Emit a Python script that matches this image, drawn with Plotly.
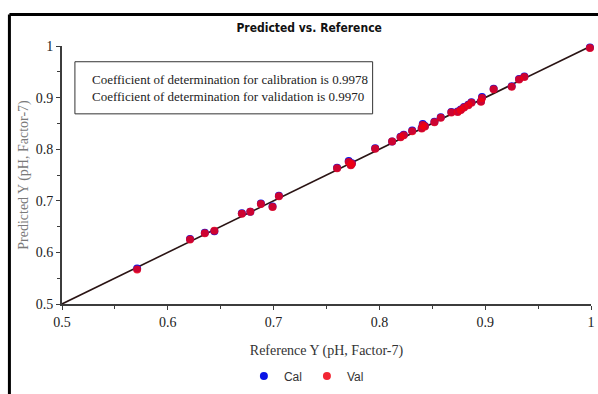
import plotly.graph_objects as go

# Reference vs predicted pH values (Factor-7 model)
cal_ref = [0.571, 0.621, 0.635, 0.644, 0.670, 0.678, 0.688, 0.699, 0.705, 0.760,
           0.771, 0.773, 0.774, 0.796, 0.812, 0.820, 0.823, 0.831, 0.840, 0.841,
           0.843, 0.852, 0.858, 0.868, 0.874, 0.877, 0.880, 0.884, 0.887, 0.896,
           0.897, 0.908, 0.925, 0.932, 0.937, 0.999]
cal_pred = [0.569, 0.626, 0.638, 0.641, 0.676, 0.679, 0.695, 0.689, 0.710, 0.764,
            0.777, 0.770, 0.773, 0.802, 0.815, 0.824, 0.828, 0.836, 0.841, 0.849,
            0.845, 0.853, 0.862, 0.872, 0.873, 0.877, 0.882, 0.886, 0.891, 0.893,
            0.901, 0.917, 0.922, 0.936, 0.941, 0.997]
val_ref = [0.571, 0.621, 0.635, 0.644, 0.670, 0.678, 0.688, 0.699, 0.705, 0.760,
           0.771, 0.773, 0.774, 0.796, 0.812, 0.820, 0.823, 0.831, 0.840, 0.841,
           0.843, 0.852, 0.858, 0.868, 0.874, 0.877, 0.880, 0.884, 0.887, 0.896,
           0.897, 0.908, 0.925, 0.932, 0.937, 0.999]
val_pred = [0.567, 0.625, 0.637, 0.642, 0.675, 0.679, 0.694, 0.688, 0.709, 0.763,
            0.775, 0.769, 0.772, 0.801, 0.815, 0.823, 0.827, 0.835, 0.840, 0.847,
            0.844, 0.852, 0.861, 0.871, 0.872, 0.876, 0.881, 0.885, 0.890, 0.892,
            0.899, 0.916, 0.921, 0.935, 0.940, 0.996]
line_xy = [0.5, 1.0]
r2_cal = "0.9978"
r2_val = "0.9970"
x_ticks = [0.5, 0.6, 0.7, 0.8, 0.9, 1.0]
y_ticks = [0.5, 0.6, 0.7, 0.8, 0.9, 1.0]

serif = "Liberation Serif, Times New Roman, serif"
narrow = "DejaVu Sans Condensed, Liberation Sans Narrow, Arial Narrow, sans-serif"

fig = go.Figure()
fig.add_trace(go.Scatter(x=line_xy, y=line_xy, mode="lines",
                         line=dict(color="#2a1414", width=1.6),
                         showlegend=False, hoverinfo="skip", cliponaxis=False))
fig.add_trace(go.Scatter(x=cal_ref, y=cal_pred, mode="markers", name="Cal",
                         marker=dict(color="#0a14e6", size=8), cliponaxis=False))
fig.add_trace(go.Scatter(x=val_ref, y=val_pred, mode="markers", name="Val",
                         marker=dict(color="#f00010", size=8, opacity=0.85),
                         cliponaxis=False))

axis_common = dict(
    range=[0.5, 1.0], showgrid=False, zeroline=False,
    showline=True, linecolor="#3c3c3c", linewidth=2,
    ticks="outside", ticklen=4, tickcolor="#3c3c3c", tickwidth=1,
    minor=dict(dtick=0.05, ticks="outside", ticklen=3, tickcolor="#3c3c3c"),
    tickfont=dict(family=serif, size=14, color="#222"),
    ticklabeloverflow="allow",
    mirror=False,
)

fig.update_layout(
    width=598, height=394,
    margin=dict(l=62, r=3, t=46, b=86),
    paper_bgcolor="white", plot_bgcolor="white",
    title=dict(text="<b>Predicted vs. Reference</b>", x=0.517, xanchor="center",
               y=0.929, yanchor="middle",
               font=dict(family=narrow, size=12, color="#111")),
    xaxis=dict(axis_common, tickvals=x_ticks,
               title=dict(text="Reference Y (pH, Factor-7)", standoff=16,
                          font=dict(family=serif, size=14, color="#333"))),
    yaxis=dict(axis_common, tickvals=y_ticks,
               title=dict(text="Predicted Y (pH, Factor-7)", standoff=4,
                          font=dict(family=serif, size=14, color="#7a7a7a"))),
    legend=dict(orientation="h", x=0.462, xanchor="center", y=-0.279,
                yanchor="middle", font=dict(family="Liberation Sans, Arial, sans-serif",
                                             size=12, color="#333"),
                itemwidth=30),
    showlegend=True,
)

# Text box with the R² values
fig.add_shape(type="rect", xref="paper", yref="paper",
              x0=0.0244, x1=0.5872, y0=0.737, y1=0.939,
              line=dict(color="#333", width=1), fillcolor="white")
fig.add_annotation(xref="paper", yref="paper", x=0.0525, y=0.838,
                   xanchor="left", yanchor="middle", align="left", showarrow=False,
                   text=f"Coefficient of determination for calibration is {r2_cal}<br>"
                        f"Coefficient of determination for validation is {r2_val}",
                   font=dict(family=serif, size=13, color="#222"))

# Heavy outer frame (top and left edges)
fig.add_shape(type="line", xref="paper", yref="paper",
              x0=-0.0994, x1=1.2, y0=1.122, y1=1.122,
              line=dict(color="black", width=3))
fig.add_shape(type="line", xref="paper", yref="paper",
              x0=-0.0994, x1=-0.0994, y0=1.122, y1=-0.5,
              line=dict(color="black", width=3))

fig.write_html("out.html")
